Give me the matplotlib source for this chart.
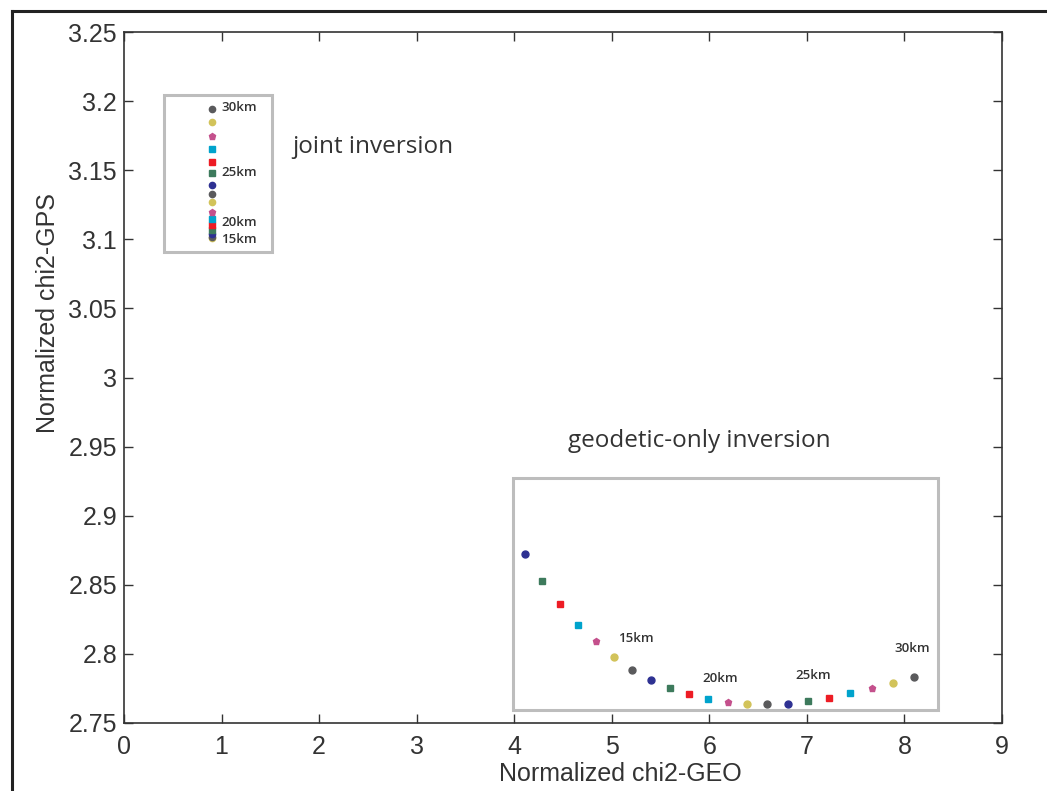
import matplotlib
matplotlib.use('Agg')
import matplotlib.pyplot as plt
from matplotlib.patches import Rectangle
from matplotlib.lines import Line2D

# geodetic-only inversion, depths 10..30 km
geo_depth = list(range(10, 31))
geo_x = [4.110, 4.285, 4.469, 4.654, 4.838, 5.023, 5.207, 5.402, 5.597, 5.791, 5.986,
         6.191, 6.386, 6.591, 6.806, 7.011, 7.226, 7.442, 7.667, 7.882, 8.098]
geo_y = [2.872, 2.853, 2.836, 2.821, 2.809, 2.798, 2.788, 2.781, 2.775, 2.771, 2.767,
         2.765, 2.764, 2.764, 2.764, 2.766, 2.768, 2.772, 2.775, 2.779, 2.783]

# joint inversion, depths 15..30 km
joint_depth = list(range(15, 31))
joint_x = [0.902, 0.902, 0.902, 0.902, 0.902, 0.902, 0.902, 0.902,
           0.902, 0.902, 0.902, 0.902, 0.902, 0.902, 0.902, 0.902]
joint_y = [3.101, 3.102, 3.104, 3.107, 3.110, 3.115, 3.120, 3.127,
           3.133, 3.139, 3.148, 3.156, 3.165, 3.175, 3.185, 3.194]

labelled = [15, 20, 25, 30]
xticks = [0, 1, 2, 3, 4, 5, 6, 7, 8, 9]
yticks = [2.75, 2.8, 2.85, 2.9, 2.95, 3.0, 3.05, 3.1, 3.15, 3.2, 3.25]
ytick_labels = ['2.75', '2.8', '2.85', '2.9', '2.95', '3', '3.05', '3.1', '3.15', '3.2', '3.25']

# colour / marker cycle by depth (starting at 10 km)
cycle_colors = ['#2e3192', '#3d7a5c', '#ed1c24', '#00a3cc', '#c4508c', '#d2c35a', '#5a5a5c']
cycle_markers = ['o', 's', 's', 's', 'p', 'o', 'o']

def style(depth):
    i = (depth - 10) % 7
    return cycle_colors[i], cycle_markers[i]

fig = plt.figure(figsize=(10.47, 7.91), dpi=100)
ax = fig.add_axes([0.1184, 0.0860, 0.8386, 0.8735])

for d, x, y in zip(geo_depth, geo_x, geo_y):
    c, m = style(d)
    ax.plot(x, y, marker=m, color=c, markersize=5, linestyle='none')
for d, x, y in zip(joint_depth, joint_x, joint_y):
    c, m = style(d)
    ax.plot(x, y, marker=m, color=c, markersize=4.5, linestyle='none')

# depth labels
km_font = dict(family='Open Sans', fontsize=9.5, fontweight='semibold', color='#333333')
geo_off = {15: (22, 18), 20: (12, 21), 25: (5, 25), 30: (-2, 29)}
for d, x, y in zip(geo_depth, geo_x, geo_y):
    if d in labelled:
        ax.annotate('%dkm' % d, (x, y), xytext=geo_off[d], textcoords='offset pixels',
                    ha='center', va='center', **km_font)
joint_off = {15: (9, -2), 20: (9, -4), 25: (9, 0), 30: (9, 2)}
for d, x, y in zip(joint_depth, joint_x, joint_y):
    if d in labelled:
        ax.annotate('%dkm' % d, (x, y), xytext=joint_off[d], textcoords='offset pixels',
                    ha='left', va='center', **km_font)

# grey boxes
ax.add_patch(Rectangle((0.41, 3.0908), 1.107, 0.1136, fill=False, edgecolor='#bdbdbd', linewidth=2.2))
ax.add_patch(Rectangle((3.987, 2.7594), 4.357, 0.1679, fill=False, edgecolor='#bdbdbd', linewidth=2.2))

txt_font = dict(family='Open Sans', fontsize=17.5, color='#333333')
ax.text(1.722, 3.167, 'joint inversion', ha='left', va='center', **txt_font)
ax.text(5.90, 2.954, 'geodetic-only inversion', ha='center', va='center', **txt_font)

ax.set_xlim(0, 9)
ax.set_ylim(2.75, 3.25)
ax.set_xticks(xticks)
ax.set_xticklabels([str(t) for t in xticks])
ax.set_yticks(yticks)
ax.set_yticklabels(ytick_labels)
ax.tick_params(direction='in', length=6.5, width=1.0, color='#333333',
               top=True, right=True, labelsize=18, labelcolor='#333333', pad=5)
ax.tick_params(axis='x', pad=9)
for lab in ax.get_xticklabels() + ax.get_yticklabels():
    lab.set_family('Liberation Sans')
for sp in ax.spines.values():
    sp.set_linewidth(1.2)
    sp.set_color('#333333')

ax.set_xlabel('Normalized chi2-GEO', family='Liberation Sans', fontsize=18, color='#333333')
ax.set_ylabel('Normalized chi2-GPS', family='Liberation Sans', fontsize=18, color='#333333')
ax.xaxis.set_label_coords(0.565, -0.056)
ax.yaxis.set_label_coords(-0.073, 0.593)

# outer frame (left and top edges)
fig.add_artist(Line2D([0.0115, 0.0115], [0.0, 0.986], transform=fig.transFigure, color='#222222', linewidth=2.2))
fig.add_artist(Line2D([0.0115, 1.0], [0.986, 0.986], transform=fig.transFigure, color='#222222', linewidth=2.2))

fig.savefig('out.png', dpi=100)
plt.close(fig)
